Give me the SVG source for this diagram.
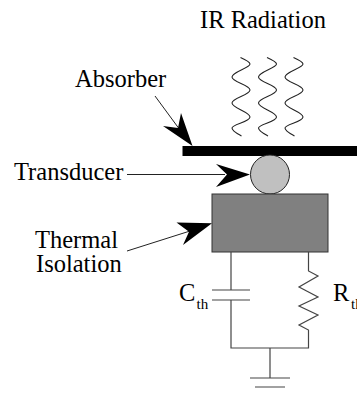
<svg xmlns="http://www.w3.org/2000/svg" width="357" height="394" viewBox="0 0 357 394">
<style>
text{font-family:"Liberation Serif","Times New Roman",serif;font-size:24.500px;fill:#000}
.sub{font-size:15px}
.w{fill:none;stroke:#222;stroke-width:1.100}
.l{fill:none;stroke:#222;stroke-width:1}
.c{fill:none;stroke:#444;stroke-width:1.200}
.h{fill:#000;stroke:none}
</style>
<defs>
<path id="wave" class="w" d="M240.500 57.500C246 60 250 62 250 64C250 68 232 72 232 77C232 82 250 85 250 90C250 95 232 98 232 103C232 108 250 112 250 117C250 122 232 124 232 128C232 131 238 134 241.500 136"/>
</defs>
<g id="ir-radiation"><text x="200" y="27.500">IR Radiation</text>
<use href="#wave"/><use href="#wave" x="26.500"/><use href="#wave" x="53"/></g>
<g id="absorber"><text x="75" y="87">Absorber</text><rect x="182.500" y="146" width="175" height="10" fill="#000"/></g>
<g id="transducer"><text x="14" y="180">Transducer</text><circle cx="270" cy="174.500" r="19.500" fill="#c0c0c0" stroke="#222" stroke-width="1"/></g>
<g id="thermal-isolation"><text x="35" y="248">Thermal</text><text x="36" y="272">Isolation</text><rect x="212" y="194" width="116" height="58" fill="#808080" stroke="#333" stroke-width="1"/></g>
<g id="cth"><text x="179" y="301">C</text><text class="sub" x="196.500" y="309">th</text></g>
<g id="rth"><text x="333" y="301">R</text><text class="sub" x="351" y="309">th</text></g>
<g id="connectors">
<path class="l" d="M155 96L180 130"/><path class="h" d="M192.500 146L163 126L178 128L181 113Z"/>
<path class="l" d="M127 174.500H225"/><path class="h" d="M250 174.500L216 164L227 174.500L216 187Z"/>
<path class="l" d="M127 251L190 231"/><path class="h" d="M212 223.300L176.500 222.500L189 231.700L183 245Z"/>
<path class="c" d="M231 252V290M212 290H250M212 300H250M231 300V348H308.500V330L299 325L318 315L299 306L318 297L299 287L318 276L308.500 271V252M270 348V378M250 378H290M255 387H285"/>
</g>
</svg>
